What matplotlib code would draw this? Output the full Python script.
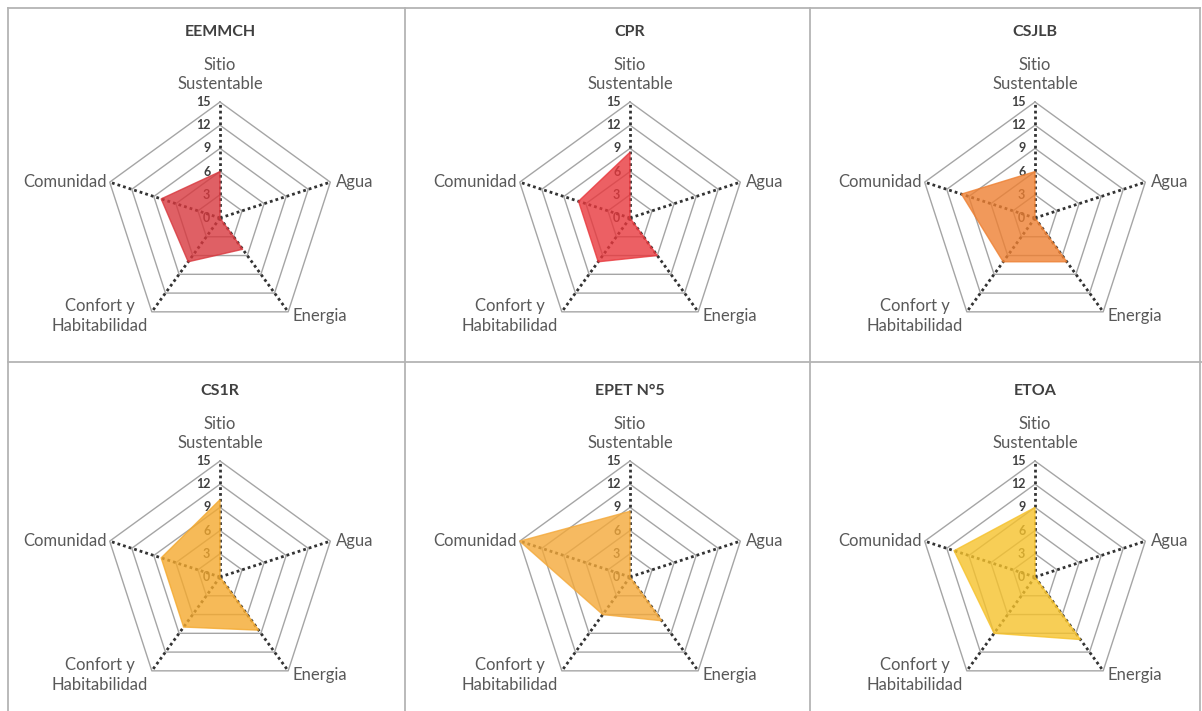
import matplotlib
matplotlib.use('Agg')
import matplotlib.pyplot as plt
from matplotlib.lines import Line2D
import numpy as np

plt.rcParams['font.family'] = ['Lato', 'DejaVu Sans']

# datos (puntaje por categoria, escala 0-15)
categorias = ['Sitio\nSustentable', 'Agua', 'Energia', 'Confort y\nHabitabilidad', 'Comunidad']
escuelas = ['EEMMCH', 'CPR', 'CSJLB', 'CS1R', 'EPET N°5', 'ETOA']
eemmch = [6, 0, 5, 7, 8]
cpr = [8.5, 0, 6, 7, 7]
csjlb = [6, 0, 7, 7, 10]
cs1r = [10, 0, 8.5, 8, 8]
epet5 = [8.5, 0, 7, 6, 15]
etoa = [9, 0, 10, 9, 11]
ticks = [0, 3, 6, 9, 12, 15]
colores = ['#d8383e', '#e8383d', '#ee8032', '#f4a92e', '#f4a93a', '#f6c22c']

W, H = 1202, 711
R = 116  # radio del 15 en pixeles
centros = [(220, 218), (630, 218), (1035, 218), (220, 577), (630, 577), (1035, 577)]

# posicion de cada etiqueta de categoria: offset (pt), ha, va
etiq = [((0, 7), 'center', 'bottom'),
        ((4, 0), 'left', 'center'),
        ((3, -3), 'left', 'center'),
        ((-3, -3), 'right', 'center'),
        ((-2, 0), 'right', 'center')]

angulos = np.linspace(0, 2 * np.pi, len(categorias), endpoint=False)


def drawRadar(ax, valores, titulo, color):
	ax.set_theta_offset(np.pi / 2)
	ax.set_theta_direction(-1)
	ax.set_ylim(0, 15)
	ax.set_xticks([])
	ax.set_yticks([])
	ax.spines['polar'].set_visible(False)
	ax.grid(False)
	ax.patch.set_alpha(0)

	ang = np.append(angulos, angulos[0])
	# pentagonos de la grilla
	for t in ticks[1:]:
		ax.plot(ang, [t] * len(ang), color='#a5a5a5', lw=1, zorder=1, clip_on=False)
	# ejes punteados
	for a in angulos:
		ax.plot([a, a], [0, 15], color='#333333', lw=2, linestyle=(0, (1, 1.1)), zorder=2, clip_on=False)
	# valores del eje
	for t in ticks:
		ax.annotate(str(t), xy=(0, t), xytext=(-7, 0), textcoords='offset points',
			ha='right', va='center', fontsize=9, fontweight='bold', color='#404040', zorder=1.5)
	vals = list(valores) + [valores[0]]
	ax.fill(ang, vals, facecolor=color, edgecolor=color, alpha=0.8, lw=1, zorder=3, clip_on=False)
	for a, cat, (off, ha, va) in zip(angulos, categorias, etiq):
		ax.annotate(cat, xy=(a, 15), xytext=off, textcoords='offset points', ha=ha, va=va,
			multialignment='center', fontsize=12, color='#595959', linespacing=1.25)
	ax.text(0.5, 1 + 70.0 / (2 * R), titulo, transform=ax.transAxes, ha='center', va='center',
		fontsize=11.5, fontweight='bold', color='#404040')


fig = plt.figure(figsize=(W / 100.0, H / 100.0), dpi=100)
datos = [eemmch, cpr, csjlb, cs1r, epet5, etoa]
for (cx, cy), valores, titulo, color in zip(centros, datos, escuelas, colores):
	ax = fig.add_axes([(cx - R) / W, 1 - (cy + R) / H, 2.0 * R / W, 2.0 * R / H], projection='polar')
	drawRadar(ax, valores, titulo, color)

# marcos de la tabla
def px(x, y):
	return x / W, 1 - y / H

bordes = [((8, 8), (1200, 8)), ((8, 8), (8, 711)), ((405, 8), (405, 711)), ((810, 8), (810, 711)),
	((8, 362), (1202, 362)), ((1200, 8), (1200, 711))]
for p0, p1 in bordes:
	a = px(*p0)
	b = px(*p1)
	fig.add_artist(Line2D([a[0], b[0]], [a[1], b[1]], transform=fig.transFigure, color='#b4b4b4', lw=1.3))

fig.savefig('out.png', dpi=100)
